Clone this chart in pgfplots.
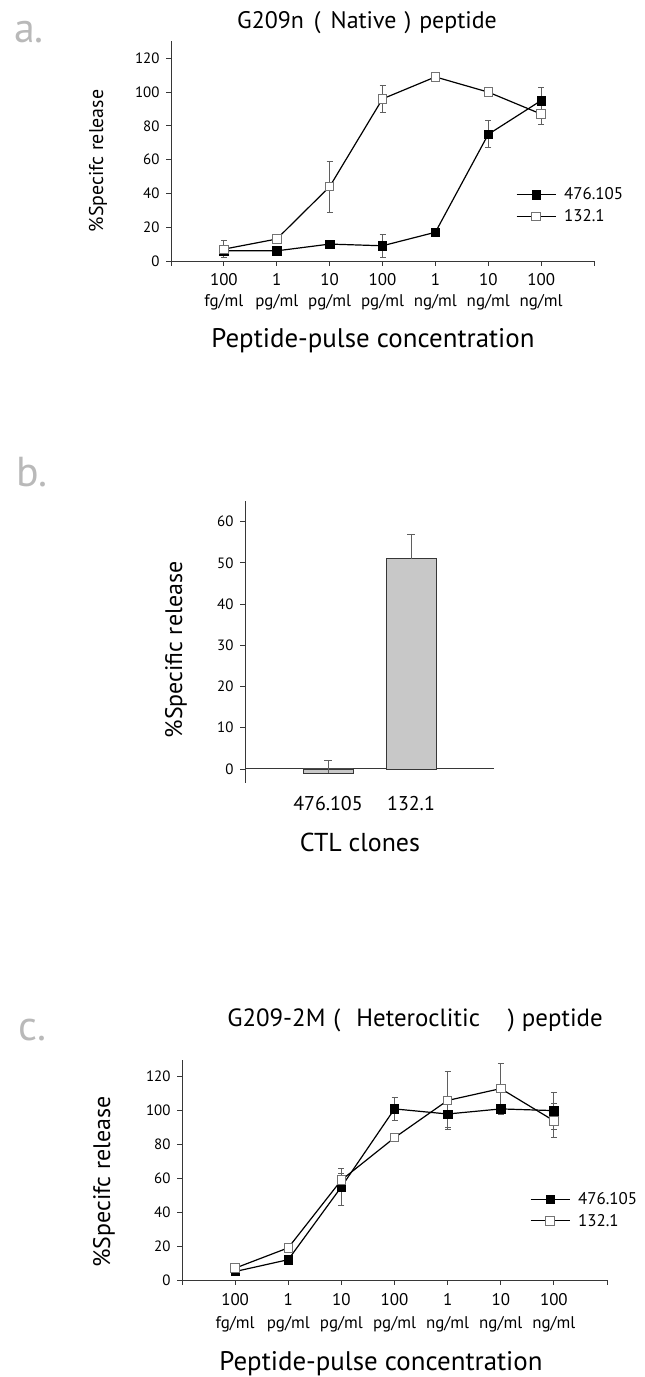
\documentclass[border=0pt]{standalone}
\usepackage{fontspec}
\setmainfont{PT Sans}
\usepackage{pgfplots}
\pgfplotsset{compat=1.18}
\definecolor{lettergray}{RGB}{185,185,185}
\definecolor{bargray}{RGB}{200,200,200}
\definecolor{errgray}{RGB}{95,95,95}
\definecolor{opengray}{RGB}{115,115,115}
\definecolor{axisgray}{RGB}{55,55,55}

\pgfplotsset{
  curvepanel/.style={
    scale only axis,
    xmin=-1, xmax=7, ymin=0, ymax=130,
    axis x line*=bottom, axis y line*=left,
    axis line style={-, axisgray, line width=0.8bp},
    tick style={axisgray, line width=0.8bp},
    tick align=outside, major tick length=5bp,
    ytick={0,20,...,120},
    xtick={-1,0,...,7},
    xticklabels={,{100\\fg/ml},{1\\pg/ml},{10\\pg/ml},{100\\pg/ml},{1\\ng/ml},{10\\ng/ml},{100\\ng/ml},},
    /pgf/number format/assume math mode=true,
    yticklabel style={font=\fontsize{15}{17}\selectfont, xshift=-3bp},
    clip=false,
    legend style={draw=none, fill=none, font=\fontsize{17}{19}\selectfont, anchor=west,
      cells={anchor=west}, row sep=4bp, inner sep=0pt,
      /tikz/every odd column/.append style={column sep=6bp}},
    legend image code/.code={\draw[mark repeat=2,mark phase=2,#1] plot coordinates {(0bp,0bp) (19.5bp,0bp) (39bp,0bp)};},
  },
  filled/.style={black, line width=1.2bp, mark=square*, mark size=4.2bp,
    mark options={solid, fill=black, draw=black, line width=0.5bp},
    error bars/.cd, y dir=both, y explicit,
    error bar style={errgray, line width=0.8bp},
    error mark options={rotate=90, errgray, mark size=3bp, line width=0.8bp}},
  open/.style={black, line width=1.2bp, mark=square*, mark size=4.2bp,
    mark options={solid, fill=white, draw=opengray, line width=0.9bp},
    error bars/.cd, y dir=both, y explicit,
    error bar style={errgray, line width=0.8bp},
    error mark options={rotate=90, errgray, mark size=3bp, line width=0.8bp}},
}

\begin{document}
\begin{tikzpicture}[x=1bp,y=1bp]
\path[use as bounding box] (0,0) rectangle (645,1377);

% ---------------- panel a ----------------
\begin{axis}[curvepanel, width=423bp, height=219.5bp, at={(171bp,1116bp)}, anchor=south west,
  xticklabel style={font=\fontsize{17}{21}\selectfont, align=center, yshift=-4bp},
  legend style={at={(axis cs:5.52,32.9)}}]
\addplot[filled] coordinates {
  (0,6) +- (0,0) (1,6) +- (0,0) (2,10) +- (0,1) (3,9) +- (0,7)
  (4,17) +- (0,1) (5,75) +- (0,8) (6,95) +- (0,8)};
\addplot[open] coordinates {
  (0,7) +- (0,5) (1,13) +- (0,1) (2,44) +- (0,15) (3,96) +- (0,8)
  (4,109) +- (0,1) (5,100) +- (0,2) (6,87) +- (0,6)};
\legend{476.105,132.1}
\end{axis}

% ---------------- panel b ----------------
\begin{axis}[scale only axis, width=249bp, height=282bp, at={(245bp,594bp)}, anchor=south west,
  xmin=-1, xmax=2, ymin=-3.4, ymax=65,
  axis y line*=left, axis x line*=bottom,
  axis line style={-, axisgray, line width=0.8bp},
  x axis line style={draw=none},
  tick style={axisgray, line width=0.8bp},
  tick align=outside, major tick length=5bp,
  xtick={0,1}, xticklabels={476.105,132.1}, major x tick style={draw=none},
  ytick={0,10,...,60},
  extra y ticks={0}, extra y tick labels={},
  extra y tick style={grid=major, major grid style={axisgray, line width=1bp}, major tick length=0pt},
  /pgf/number format/assume math mode=true,
  yticklabel style={font=\fontsize{15}{17}\selectfont, xshift=-3bp},
  xticklabel style={font=\fontsize{20}{22}\selectfont, yshift=-5bp},
  clip=false]
\addplot[ybar, bar width=50bp, fill=bargray, draw=axisgray, line width=0.7bp,
  error bars/.cd, y dir=plus, y explicit,
  error bar style={errgray, line width=0.8bp},
  error mark options={rotate=90, errgray, mark size=4bp, line width=0.8bp}]
  coordinates {(0,-1) +- (0,3) (1,51) +- (0,6)};
\end{axis}

% ---------------- panel c ----------------
\begin{axis}[curvepanel, width=425bp, height=220.2bp, at={(182bp,97bp)}, anchor=south west,
  xticklabel style={font=\fontsize{17}{23}\selectfont, align=center, yshift=-5bp},
  legend style={at={(axis cs:5.546,41.3)}}]
\addplot[filled] coordinates {
  (0,5) +- (0,1) (1,12) +- (0,1) (2,55) +- (0,11) (3,101) +- (0,7)
  (4,98) +- (0,8) (5,101) +- (0,2) (6,100) +- (0,11)};
\addplot[open] coordinates {
  (0,7) +- (0,1) (1,19) +- (0,1) (2,59) +- (0,4) (3,84) +- (0,1)
  (4,106) +- (0,17) (5,113) +- (0,15) (6,94) +- (0,10)};
\legend{476.105,132.1}
\end{axis}

% ---------------- texts ----------------
\node[anchor=base west, inner sep=0, text=lettergray, font=\fontsize{42}{42}\selectfont] at (14,1334) {a.};
\node[anchor=base west, inner sep=0, text=lettergray, font=\fontsize{42}{42}\selectfont] at (16,890) {b.};
\node[anchor=base west, inner sep=0, text=lettergray, font=\fontsize{42}{42}\selectfont] at (18,336) {c.};

\node[font=\fontsize{24}{27}\selectfont] at (367,1354) {G209n\hspace{10bp}(\hspace{10bp}Native\hspace{8bp})\hspace{8bp}peptide};
\node[font=\fontsize{25}{28}\selectfont] at (415,357) {G209-2M\hspace{8bp}(\hspace{16bp}Heteroclitic\hspace{28bp})\hspace{7bp}peptide};

\node[rotate=90, font=\fontsize{20}{22}\selectfont] at (98,1216) {\%Specifc release};
\node[rotate=90, font=\fontsize{24}{26}\selectfont] at (176,727) {\%Specific release};
\node[rotate=90, font=\fontsize{24}{26}\selectfont] at (104,195) {\%Specifc release};

\node[anchor=base, font=\fontsize{27}{30}\selectfont] at (373,1029) {Peptide-pulse concentration};
\node[anchor=base, font=\fontsize{26}{29}\selectfont] at (360,525) {CTL clones};
\node[anchor=base, font=\fontsize{27}{30}\selectfont] at (381,6) {Peptide-pulse concentration};
\end{tikzpicture}
\end{document}
